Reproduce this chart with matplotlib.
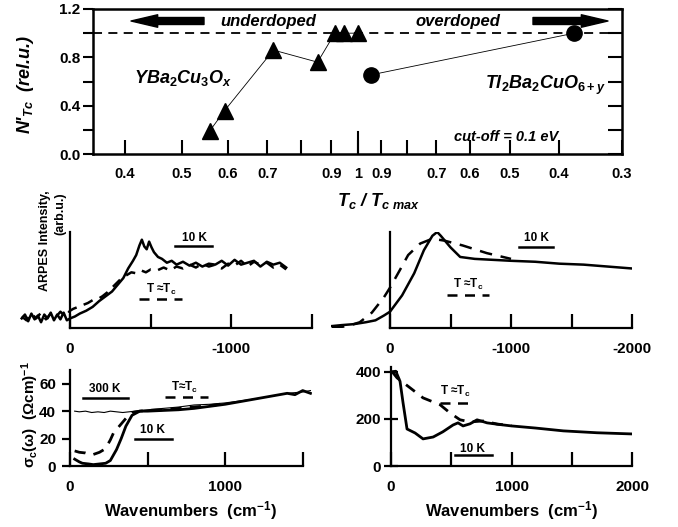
import numpy as np
import matplotlib
matplotlib.use('Agg')
import matplotlib.pyplot as plt
from matplotlib.lines import Line2D

plt.rcParams['font.family'] = ['Liberation Sans', 'DejaVu Sans']
plt.rcParams['font.weight'] = 'bold'
plt.rcParams['axes.labelweight'] = 'bold'
plt.rcParams['mathtext.fontset'] = 'custom'
plt.rcParams['mathtext.rm'] = 'Liberation Sans:bold'
plt.rcParams['mathtext.it'] = 'Liberation Sans:italic:bold'
plt.rcParams['mathtext.bf'] = 'Liberation Sans:bold'
plt.rcParams['mathtext.default'] = 'regular'

# ---- top panel data: N'Tc vs Tc/Tc,max ----
ybco_t = [0.558, 0.592, 0.717, 0.853, 0.913, 0.946, 1.0]
ybco_n = [0.19, 0.36, 0.86, 0.76, 1.0, 1.0, 1.0]
tl_t = [0.942, 0.373]
tl_n = [0.655, 1.0]
under_ticks = [0.4, 0.5, 0.6, 0.7, 0.8, 0.9, 1.0]
under_labels = ['0.4', '0.5', '0.6', '0.7', '', '0.9', '1']
over_ticks = [0.9, 0.8, 0.7, 0.6, 0.5, 0.4, 0.3]
over_labels = ['0.9', '', '0.7', '0.6', '0.5', '0.4', '0.3']

# ---- ARPES, YBCO (left) ----
arpes_y_E_10K = [300, 280, 260, 240, 220, 200, 180, 160, 140, 120, 100, 80, 60, 40, 20, 0,
                 -30, -60, -100, -140, -180, -220, -260, -300, -330, -360, -390, -410, -430,
                 -445, -460, -475, -490, -505, -520, -545, -570, -600, -630, -660, -700, -740,
                 -780, -820, -860, -900, -940, -980, -1020, -1060, -1100, -1140, -1180, -1220,
                 -1260, -1300, -1340]
arpes_y_I_10K = [0.10, 0.14, 0.07, 0.15, 0.09, 0.13, 0.06, 0.14, 0.10, 0.16, 0.08, 0.14, 0.09,
                 0.16, 0.08, 0.10, 0.12, 0.15, 0.18, 0.22, 0.28, 0.33, 0.38, 0.46, 0.52, 0.62,
                 0.70, 0.76, 0.86, 0.92, 0.85, 0.82, 0.90, 0.84, 0.79, 0.74, 0.72, 0.68, 0.70,
                 0.66, 0.69, 0.65, 0.68, 0.64, 0.67, 0.66, 0.70, 0.65, 0.71, 0.66, 0.68, 0.70,
                 0.64, 0.69, 0.66, 0.68, 0.63]
arpes_y_E_Tc = [300, 270, 240, 210, 180, 150, 120, 90, 60, 30, 0, -20, -50, -80, -110, -140,
                -170, -200, -230, -260, -290, -320, -350, -380, -410, -440, -470, -500, -540,
                -580, -620, -660, -700, -740, -780, -820, -860, -900, -940, -980, -1020, -1060,
                -1100, -1140, -1180, -1220, -1260, -1300, -1340]
arpes_y_I_Tc = [0.12, 0.08, 0.15, 0.10, 0.16, 0.09, 0.15, 0.11, 0.17, 0.12, 0.18, 0.20, 0.22,
                0.24, 0.26, 0.29, 0.30, 0.33, 0.37, 0.42, 0.47, 0.52, 0.55, 0.58, 0.57, 0.60,
                0.58, 0.61, 0.60, 0.63, 0.60, 0.64, 0.62, 0.66, 0.63, 0.67, 0.64, 0.66, 0.62,
                0.67, 0.65, 0.70, 0.64, 0.69, 0.66, 0.68, 0.63, 0.66, 0.61]

# ---- ARPES, Tl2201 (right) ----
arpes_t_E_10K = [480, 400, 300, 200, 120, 50, 0, -100, -200, -280, -350, -390, -420, -500,
                 -580, -700, -850, -1000, -1200, -1400, -1600, -1800, -2000]
arpes_t_I_10K = [0.02, 0.03, 0.04, 0.06, 0.08, 0.13, 0.17, 0.34, 0.57, 0.81, 0.96, 1.0, 0.96,
                 0.84, 0.74, 0.72, 0.71, 0.70, 0.69, 0.67, 0.66, 0.64, 0.62]
arpes_t_E_Tc = [480, 350, 250, 150, 50, 0, -80, -150, -250, -350, -450, -600, -800, -900, -1000]
arpes_t_I_Tc = [0.0, 0.02, 0.06, 0.16, 0.32, 0.42, 0.60, 0.76, 0.88, 0.93, 0.91, 0.86, 0.78,
                0.75, 0.72]

# ---- c-axis conductivity, YBCO (left) ----
sig_y_w_300K = [30, 60, 100, 140, 180, 220, 260, 300, 340, 380, 420, 500, 600, 700, 800, 900,
                1000, 1100, 1200, 1300, 1400, 1500, 1550]
sig_y_s_300K = [40, 39.5, 40, 39, 39.5, 39, 40, 39.5, 39, 39.5, 40, 41, 42, 43, 44.5, 45, 46,
                47.5, 49, 51, 53, 54, 55]
sig_y_w_10K = [30, 60, 80, 120, 150, 190, 230, 260, 280, 300, 330, 360, 400, 450, 500, 600,
               700, 800, 900, 1000, 1100, 1200, 1300, 1400, 1450, 1500, 1550]
sig_y_s_10K = [5, 3, 2, 1.5, 1, 1.5, 2, 4, 8, 12, 20, 29, 37, 40, 40, 40.5, 41, 42, 43.5, 45,
               47, 49, 51, 53, 52, 55, 53]
sig_y_w_Tc = [30, 60, 100, 140, 190, 220, 240, 260, 280, 310, 340, 370, 400, 450, 500, 600,
              700, 800, 900, 1000]
sig_y_s_Tc = [11, 10, 9.5, 8, 10, 12, 15, 19, 24, 28, 32, 36, 39, 40, 40.5, 41, 42, 43, 44, 45.5]

# ---- c-axis conductivity, Tl2201 (right) ----
sig_t_w_10K = [10, 40, 75, 100, 133, 200, 266, 350, 430, 515, 556, 598, 656, 714, 797, 900,
               1000, 1200, 1430, 1710, 2000]
sig_t_s_10K = [400, 402, 359, 268, 157, 140, 115, 123, 145, 174, 183, 170, 179, 196, 183, 176,
               170, 161, 149, 141, 136]
sig_t_w_Tc = [8, 50, 160, 266, 407, 490, 573, 656, 764, 880, 1000]
sig_t_s_Tc = [401, 374, 331, 289, 260, 225, 196, 187, 191, 178, 171]

W, H = 678, 527


def fx(px):
    return px / W


def fy(py):
    return 1 - py / H


fig = plt.figure(figsize=(6.78, 5.27), dpi=100)

# ================= top panel =================
ax = fig.add_axes([fx(93), fy(154), fx(622) - fx(93), fy(9) - fy(154)])
k = 1.16  # underdoped side is stretched relative to overdoped side


def u_under(t):
    return k * np.log10(np.array(t))


def u_over(t):
    return -np.log10(np.array(t))


ax.set_xlim(-0.525, -np.log10(0.3))
ax.set_ylim(0, 1.2)
ax.axhline(1.0, color='k', lw=1.3, ls=(0, (5, 3.5)))
ax.plot(u_under(ybco_t), ybco_n, '-', color='k', lw=0.6, marker='^', ms=11,
        mfc='k', mec='k')
ax.plot(u_over(tl_t), tl_n, '-', color='k', lw=0.6, marker='o', ms=11, mfc='k', mec='k')

xt = list(u_under(under_ticks)) + list(u_over(over_ticks))
ax.set_xticks(xt)
ax.set_xticklabels(under_labels + over_labels)
ax.tick_params(axis='x', direction='in', length=10, width=1.5, labelsize=10.5, pad=9)
ax.axvline(0, ymax=0.15, color='k', lw=1.5)
ax.set_yticks([0, 0.2, 0.4, 0.6, 0.8, 1.0, 1.2])
ax.set_yticklabels(['0.0', '', '0.4', '', '0.8', '', '1.2'])
ax.tick_params(axis='y', direction='out', length=7, width=1.5, labelsize=11, pad=2,
               right=True, labelright=False)
for sp in ax.spines.values():
    sp.set_linewidth(1.8)
for line in ax.yaxis.get_ticklines()[1::2]:
    line.set_marker(matplotlib.markers.TICKLEFT)
    line.set_markersize(10)

ax.text(0.332, 0.915, 'underdoped', transform=ax.transAxes, ha='center', va='center',
        fontsize=12, style='italic')
ax.text(0.69, 0.915, 'overdoped', transform=ax.transAxes, ha='center', va='center',
        fontsize=12, style='italic')
arrow_style = 'simple,head_length=1.6,head_width=0.75,tail_width=0.42'
ax.annotate('', xy=(fx(131), fy(21)), xytext=(fx(204), fy(21)), xycoords='figure fraction',
            arrowprops=dict(arrowstyle=arrow_style, color='k', mutation_scale=12,
                            shrinkA=0, shrinkB=0))
ax.annotate('', xy=(fx(608), fy(21)), xytext=(fx(533), fy(21)), xycoords='figure fraction',
            arrowprops=dict(arrowstyle=arrow_style, color='k', mutation_scale=12,
                            shrinkA=0, shrinkB=0))
fig.text(fx(134), fy(83), r'YBa$_\mathit{2}$Cu$_\mathit{3}$O$_\mathit{x}$', fontsize=13,
         style='italic', ha='left', va='baseline')
fig.text(fx(606), fy(89), r'Tl$_\mathit{2}$Ba$_\mathit{2}$CuO$_\mathit{6+y}$', fontsize=13,
         style='italic', ha='right', va='baseline')
fig.text(fx(506), fy(137), 'cut-off = 0.1 eV', fontsize=10.5, style='italic', ha='center',
         va='center')
fig.text(fx(26), fy(84), r"N'$_\mathit{Tc}$  (rel.u.)", fontsize=13, style='italic',
         rotation=90, ha='center', va='center')
fig.text(fx(379), fy(201), r'T$_\mathit{c}$ / T$_\mathit{c\ max}$', fontsize=13,
         style='italic', ha='center', va='center')


def ticks_style(a):
    for sp in ['top', 'right']:
        a.spines[sp].set_visible(False)
    for sp in ['left', 'bottom']:
        a.spines[sp].set_linewidth(1.6)


# ================= ARPES left =================
sx = 0.161
a1 = fig.add_axes([fx(70 - sx * 320), fy(328), fx(312) - fx(70 - sx * 320), fy(232) - fy(328)])
a1.plot(arpes_y_E_10K, arpes_y_I_10K, '-', color='k', lw=1.8)
a1.plot(arpes_y_E_Tc, arpes_y_I_Tc, color='k', lw=1.8, ls=(0, (4, 3)))
a1.set_xlim(320, -1500)
a1.set_ylim(0, 1)
ticks_style(a1)
a1.spines['left'].set_position(('data', 0))
a1.spines['bottom'].set_bounds(-1500, 0)
a1.set_yticks([])
a1.set_xticks([0, -500, -1000, -1500])
a1.set_xticklabels(['0', '', '-1000', ''])
a1.tick_params(axis='x', direction='in', length=10, width=1.6, labelsize=11, pad=10)

# ================= ARPES right =================
sx2 = 0.121
a2 = fig.add_axes([fx(390 - sx2 * 490), fy(328), fx(632) - fx(390 - sx2 * 490),
                   fy(232) - fy(328)])
a2.plot(arpes_t_E_10K, arpes_t_I_10K, '-', color='k', lw=1.8)
a2.plot(arpes_t_E_Tc, arpes_t_I_Tc, color='k', lw=1.8, ls=(0, (5, 3.5)))
a2.set_xlim(490, -2000)
a2.set_ylim(0, 1)
ticks_style(a2)
a2.spines['left'].set_position(('data', 0))
a2.spines['bottom'].set_bounds(-2000, 0)
a2.set_yticks([])
a2.set_xticks([0, -500, -1000, -1500, -2000])
a2.set_xticklabels(['0', '', '-1000', '', '-2000'])
a2.tick_params(axis='x', direction='in', length=10, width=1.6, labelsize=11, pad=10)

fig.text(fx(45), fy(190), 'ARPES Intensity,', fontsize=9, rotation=90, ha='center', va='top')
fig.text(fx(60), fy(192), '(arb.u.)', fontsize=9, rotation=90, ha='center', va='top')

# ================= sigma left =================
a3 = fig.add_axes([fx(70), fy(466), fx(312) - fx(70), fy(370) - fy(466)])
a3.plot(sig_y_w_300K, sig_y_s_300K, '-', color='k', lw=0.8)
a3.plot(sig_y_w_10K, sig_y_s_10K, '-', color='k', lw=2.0)
a3.plot(sig_y_w_Tc, sig_y_s_Tc, color='k', lw=2.0, ls=(0, (4, 3)))
a3.set_xlim(0, 1560)
a3.set_ylim(0, 70)
ticks_style(a3)
a3.spines['bottom'].set_bounds(0, 1500)
a3.set_xticks([0, 500, 1000, 1500])
a3.set_xticklabels(['0', '', '1000', ''])
a3.set_yticks([0, 20, 40, 60])
a3.tick_params(axis='x', direction='in', length=10, width=1.6, labelsize=11, pad=10)
a3.tick_params(axis='y', direction='out', length=6, width=1.6, labelsize=11, pad=4)
a3.set_xlabel('Wavenumbers  (cm$^{-1}$)', fontsize=12, labelpad=4)

# ================= sigma right =================
a4 = fig.add_axes([fx(391), fy(466), fx(632) - fx(391), fy(367) - fy(466)])
a4.plot(sig_t_w_10K, sig_t_s_10K, '-', color='k', lw=2.0)
a4.plot(sig_t_w_Tc, sig_t_s_Tc, color='k', lw=2.0, ls=(0, (4, 3)))
a4.set_xlim(0, 2000)
a4.set_ylim(0, 420)
ticks_style(a4)
a4.set_xticks([0, 500, 1000, 1500, 2000])
a4.set_xticklabels(['0', '', '1000', '', '2000'])
a4.set_yticks([0, 200, 400])
a4.tick_params(axis='x', direction='in', length=10, width=1.6, labelsize=11, pad=10)
a4.tick_params(axis='y', direction='inout', length=10, width=1.6, labelsize=11, pad=2)
a4.set_xlabel('Wavenumbers  (cm$^{-1}$)', fontsize=12, labelpad=4)

fig.text(fx(30), fy(415), r'$\sigma_c(\omega)$  (Ωcm)$^{-1}$', fontsize=11, rotation=90,
         ha='center', va='center')


# ---- curve labels with sample bars ----
def bar_label(txt, cx, ty, x0, x1, by, dashed=False, fs=8.5):
    fig.text(fx(cx), fy(ty), txt, fontsize=fs, ha='center', va='center')
    ls = (0, (4, 3)) if dashed else '-'
    fig.add_artist(Line2D([fx(x0), fx(x1)], [fy(by), fy(by)], color='k', lw=1.8, ls=ls))


bar_label('10 K', 194, 238, 175, 212, 246)
bar_label(r'T ≈T$_c$', 161, 289, 139, 182, 299, dashed=True)
bar_label('10 K', 536, 238, 519, 553, 247)
bar_label(r'T ≈T$_c$', 468, 284, 447, 489, 295, dashed=True)
bar_label('300 K', 105, 389, 83, 128, 398)
bar_label(r'T≈T$_c$', 185, 387, 165, 208, 397, dashed=True)
bar_label('10 K', 152, 430, 135, 172, 439)
bar_label(r'T ≈T$_c$', 455, 391, 440, 470, 403, dashed=True)
bar_label('10 K', 473, 449, 455, 492, 455)

fig.savefig('out.png', dpi=100)
